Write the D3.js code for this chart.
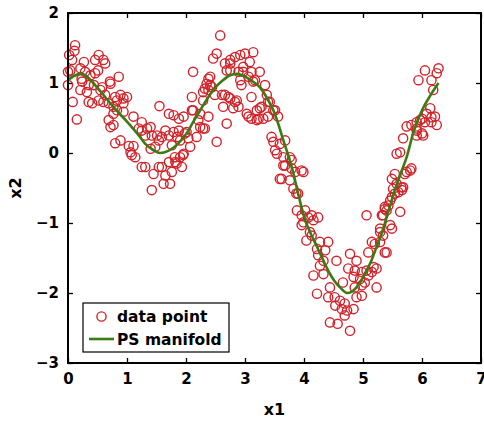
<!DOCTYPE html>
<html><head><meta charset="utf-8">
<script src="https://cdn.jsdelivr.net/npm/d3@7/dist/d3.min.js"></script>
<style>body{margin:0;background:#fff}svg{display:block}</style>
</head><body>
<script>
// ---- data ----
const dataPoints = [
[0.12,1.54],[0.11,1.46],[0.02,1.40],[0.07,1.33],[0.04,1.18],[0.00,0.97],[0.08,0.73],[0.15,0.48],[0.52,1.40],[0.46,1.33],
[0.60,1.33],[0.63,1.28],[0.51,1.18],[0.27,1.30],[0.21,1.21],[0.29,1.16],[0.38,1.11],[0.46,1.14],[0.86,1.09],[0.72,0.99],
[0.24,1.02],[0.35,0.97],[0.44,0.97],[0.21,0.90],[0.32,0.87],[0.55,0.90],[0.35,0.73],[0.41,0.71],[0.63,0.83],[0.52,0.75],
[0.60,0.73],[0.69,0.71],[0.89,0.83],[1.00,0.80],[0.94,0.78],[0.83,0.75],[0.77,0.66],[0.83,0.61],[0.94,0.59],[0.94,0.71],
[1.11,0.52],[1.25,0.44],[1.20,0.35],[1.25,0.32],[1.34,0.35],[1.40,0.37],[1.31,0.25],[1.42,0.25],[1.51,0.25],[0.80,0.14],
[0.89,0.18],[1.03,0.10],[1.11,0.10],[1.06,0.01],[1.08,-0.03],[1.14,-0.06],[1.25,-0.20],[1.31,-0.20],[1.45,-0.30],[1.59,-0.20],
[1.65,-0.32],[1.73,-0.44],[1.42,-0.53],[1.54,-0.20],[1.71,-0.13],[1.82,-0.13],[1.90,-0.06],[1.96,-0.01],[1.93,-0.20],[1.76,-0.27],
[1.59,0.23],[1.65,0.32],[1.71,0.25],[1.79,0.30],[1.88,0.32],[1.90,0.18],[1.54,0.18],[1.48,0.09],[1.40,0.06],[1.76,0.11],
[0.72,0.37],[0.77,0.40],[1.55,0.67],[1.71,0.56],[1.79,0.54],[1.88,0.49],[1.96,0.52],[1.85,0.23],[0.69,0.47],[0.58,0.94],
[0.00,1.16],[0.23,1.06],[0.71,1.02],[0.80,0.80],[0.77,0.56],
[2.10,0.80],[2.12,1.16],[2.10,0.61],[2.24,0.56],[2.29,0.35],[2.38,0.52],[2.01,0.30],[2.04,0.21],[1.81,-0.06],[1.84,-0.15],
[1.62,-0.44],[2.38,1.06],[2.32,0.92],[2.41,0.97],[2.29,0.87],[2.58,1.68],[2.52,1.42],[2.46,1.35],[2.52,0.16],[2.69,0.42],
[2.61,0.83],[2.66,0.83],[2.75,0.78],[2.86,0.75],[2.80,0.64],[2.89,0.66],[2.66,1.28],[2.75,1.33],[2.83,1.37],[2.92,1.40],
[2.97,1.23],[2.69,1.18],[2.89,1.16],[3.06,1.09],[3.03,0.56],[3.06,0.52],
[2.75,1.28],[3.00,1.42],[3.14,1.44],[3.08,1.30],[2.75,1.18],[2.97,1.16],[3.11,1.16],[3.25,1.16],[2.94,0.97],[2.92,1.04],
[3.14,1.02],[3.34,0.97],[3.11,0.80],[3.37,0.83],[3.39,0.73],[3.25,0.64],[3.11,0.49],[3.20,0.47],[3.31,0.49],[3.39,0.52],
[3.56,0.52],[3.51,0.61],[2.41,1.09],[2.35,0.99],[2.38,0.90],[2.44,0.94],[2.29,0.75],[2.49,0.83],[2.72,0.80],[2.83,0.73],
[2.63,0.66],[2.12,0.61],[2.21,0.47],[2.24,0.37],[2.32,0.35],[2.18,0.23],[1.98,0.28],[2.07,0.09],[1.95,-0.03],
[3.45,0.23],[3.48,0.16],[3.59,0.13],[3.68,0.18],[3.51,0.04],[3.54,-0.01],[3.65,-0.06],[3.76,-0.06],[3.68,-0.18],[3.79,-0.22],
[3.85,-0.27],[3.96,-0.25],[3.59,-0.37],[3.76,-0.39],[3.82,-0.51],[3.87,-0.58],
[3.17,1.04],[3.42,0.73],[3.28,0.66],[3.20,0.61],[3.48,0.61],[3.23,0.49],[3.79,-0.10],[3.65,-0.18],[3.62,-0.37],[3.90,-0.58],
[6.05,1.18],[6.28,1.21],[6.25,1.14],[6.16,1.04],[5.94,1.04],[6.19,0.90],[6.14,0.64],[6.08,0.56],[6.22,0.52],[6.25,0.40],
[6.16,0.44],[6.00,0.49],[5.91,0.44],[5.82,0.40],[5.74,0.38],[5.91,0.32],[6.00,0.28],[5.91,0.25],[5.68,0.21],[5.63,0.01],
[5.57,-0.01],[5.80,-0.25],[5.74,-0.27],[5.54,-0.30],[5.49,-0.37],[5.57,-0.44],[5.65,-0.49],[5.54,-0.58],
[6.16,0.51],[5.97,0.47],[6.05,0.44],[5.91,0.35],[6.02,0.25],[5.82,-0.22],[5.71,-0.30],[5.68,-0.49],[5.60,-0.56],[5.51,-0.51],
[5.49,-0.63],[5.46,-0.68],[5.37,-0.77],[5.40,-0.82],[5.63,-0.84],[5.34,-0.89],[5.06,-0.89],[5.46,-1.03],[5.29,-1.08],
[3.99,-0.27],[3.88,-0.82],[4.02,-0.82],[3.96,-0.89],[4.07,-0.92],[4.24,-0.92],[3.99,-0.99],[4.16,-0.96],
[4.13,-0.89],[3.96,-1.03],[4.10,-1.13],[4.13,-1.18],[4.04,-1.25],[4.27,-1.27],[4.41,-1.27],[4.22,-1.37],[4.36,-1.39],[4.24,-1.46],
[4.33,-1.54],[4.55,-1.54],[4.27,-1.61],[4.16,-1.75],[4.33,-1.73],[4.44,-1.92],[4.22,-2.01],[4.52,-2.06],[4.41,-2.06],[4.53,-2.18],
[4.61,-2.11],[4.64,-2.23],[4.69,-2.15],[4.73,-2.25],[4.69,-2.32],[4.84,-2.23],[4.44,-2.42],[4.57,-2.44],[4.78,-2.54],[4.66,-1.85],
[4.78,-1.44],[4.89,-1.54],[4.75,-1.65],[4.86,-1.68],[4.98,-1.70],[4.84,-1.77],[4.95,-1.80],[4.86,-1.92],[4.98,-1.89],[5.03,-1.85],
[4.89,-2.06],[4.98,-2.04],[5.23,-1.92],[5.09,-1.42],[5.15,-1.27],[5.20,-1.30],[5.29,-1.27],[5.23,-1.65],[5.15,-1.70],[5.06,-1.68],
[5.09,-1.75],[5.18,-1.63],[5.29,-1.13],[5.37,-1.42],[5.40,-1.42],[5.34,-1.18],[5.49,-1.08],[5.32,-0.89],[5.37,-0.80],[5.43,-0.75],
[5.66,-0.53]
];
const curveX = [0,0.1,0.23,0.35,0.46,0.63,0.80,1.03,1.2,1.31,1.45,1.56,1.7,1.85,2.01,2.12,2.24,2.35,2.46,2.6,2.75,2.85,2.95,3.1,3.25,3.37,3.48,3.57,3.65,3.74,3.82,3.90,4.02,4.12,4.22,4.32,4.41,4.51,4.61,4.73,4.81,4.89,4.97,5.06,5.15,5.23,5.32,5.40,5.47,5.54,5.64,5.74,5.85,6.0,6.14,6.28];
const curveY = [1.04,1.10,1.13,1.07,0.97,0.80,0.63,0.42,0.25,0.13,0.04,0.0,0.03,0.12,0.28,0.44,0.61,0.76,0.90,1.02,1.11,1.13,1.11,1.04,0.94,0.79,0.61,0.40,0.18,-0.05,-0.29,-0.58,-0.96,-1.16,-1.34,-1.52,-1.68,-1.82,-1.92,-2.0,-1.98,-1.92,-1.82,-1.68,-1.52,-1.34,-1.14,-0.92,-0.72,-0.53,-0.29,-0.06,0.28,0.61,0.82,1.0];
const xTicks = [0,1,2,3,4,5,6,7];
const yTicks = [-3,-2,-1,0,1,2];
const xLabel = "x1", yLabel = "x2";
const legendLabels = ["data point","PS manifold"];

// ---- layout ----
const W = 484, H = 421;
const m = {left:68, top:13, right:3, bottom:58};
const pw = W - m.left - m.right, ph = H - m.top - m.bottom;
const red = "#d2232a", green = "#3c7a14";
const font = "'DejaVu Sans', sans-serif";

const x = d3.scaleLinear().domain([0,7]).range([0,pw]);
const y = d3.scaleLinear().domain([-3,2]).range([ph,0]);

const svg = d3.select("body").append("svg").attr("width",W).attr("height",H)
  .style("font-family",font);
const g = svg.append("g").attr("transform",`translate(${m.left},${m.top})`);

const fmt = d => d < 0 ? "\u2212" + Math.abs(d) : String(d);

function styleAxis(sel, labels){
  sel.select(".domain").remove();
  sel.selectAll(".tick line").attr("stroke","#000").attr("stroke-width",1.3);
  sel.selectAll(".tick text").attr("fill","#000").attr("font-size",15).attr("font-weight","bold")
     .attr("font-family",font);
  if(!labels) sel.selectAll(".tick text").remove();
}
g.append("g").attr("transform",`translate(0,${ph})`)
  .call(d3.axisBottom(x).tickValues(xTicks).tickFormat(fmt).tickSizeInner(-5).tickSizeOuter(0).tickPadding(10))
  .call(s=>styleAxis(s,true));
g.append("g")
  .call(d3.axisTop(x).tickValues(xTicks).tickSizeInner(-5).tickSizeOuter(0))
  .call(s=>styleAxis(s,false));
g.append("g")
  .call(d3.axisLeft(y).tickValues(yTicks).tickFormat(fmt).tickSizeInner(-5).tickSizeOuter(0).tickPadding(9))
  .call(s=>styleAxis(s,true));
g.append("g").attr("transform",`translate(${pw},0)`)
  .call(d3.axisRight(y).tickValues(yTicks).tickSizeInner(-5).tickSizeOuter(0))
  .call(s=>styleAxis(s,false));

// data points
g.append("g").selectAll("circle").data(dataPoints).join("circle")
  .attr("cx",d=>x(d[0])).attr("cy",d=>y(d[1])).attr("r",4.6)
  .attr("fill","none").attr("stroke",red).attr("stroke-width",1.4);

// curve
const curve = curveX.map((v,i)=>[v,curveY[i]]);
g.append("path").datum(curve)
  .attr("d", d3.line().x(d=>x(d[0])).y(d=>y(d[1])).curve(d3.curveMonotoneX))
  .attr("fill","none").attr("stroke",green).attr("stroke-width",2.6);

// frame
g.append("rect").attr("x",0).attr("y",0).attr("width",pw).attr("height",ph)
  .attr("fill","none").attr("stroke","#000").attr("stroke-width",2);

// axis labels
svg.append("text").attr("x", m.left + x(3.5)).attr("y", 415)
  .attr("text-anchor","middle").attr("font-size",16).attr("font-weight","bold").text(xLabel);
svg.append("text").attr("transform",`translate(21,${m.top + y(-0.5)}) rotate(-90)`)
  .attr("text-anchor","middle").attr("font-size",16).attr("font-weight","bold").text(yLabel);

// legend
const lg = svg.append("g").attr("transform","translate(83,303)");
lg.append("rect").attr("width",146).attr("height",49).attr("fill","#fff")
  .attr("stroke","#000").attr("stroke-width",1.2);
lg.append("circle").attr("cx",18.5).attr("cy",13.5).attr("r",4.6)
  .attr("fill","none").attr("stroke",red).attr("stroke-width",1.4);
lg.append("line").attr("x1",6).attr("x2",31).attr("y1",36).attr("y2",36)
  .attr("stroke",green).attr("stroke-width",2.6);
lg.selectAll("text.lab").data(legendLabels).join("text").attr("class","lab")
  .attr("x",34).attr("y",(d,i)=>19 + i*22.5)
  .attr("font-size",15.5).attr("font-weight","bold").attr("fill","#000").text(d=>d);
</script>
</body></html>
